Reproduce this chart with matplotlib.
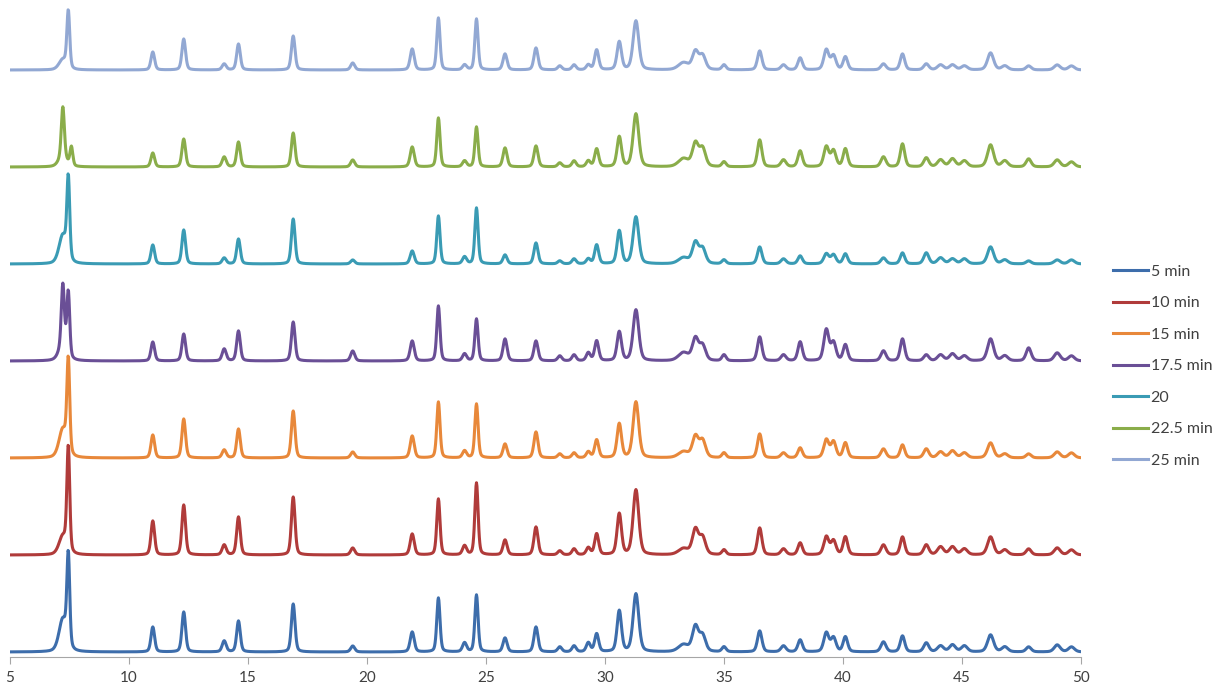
import numpy as np
import matplotlib
matplotlib.use("Agg")
import matplotlib.pyplot as plt

plt.rcParams["font.family"] = ["Lato", "DejaVu Sans"]

# peak positions (2-theta, deg) shared by all scans, and their widths (FWHM, deg)
peak_pos = [7.22, 7.22, 7.45, 7.58, 11.0, 12.3, 14.0, 14.6, 16.9, 19.4, 21.9, 23.0, 24.1,
            24.6, 25.8, 27.1, 28.1, 28.7, 29.3, 29.65, 30.6, 31.3, 33.3, 33.8, 34.1,
            35.0, 36.5, 37.5, 38.2, 39.3, 39.6, 40.1, 41.7, 42.5, 43.5, 44.1, 44.6,
            45.1, 46.2, 46.8, 47.8, 49.0, 49.6]
peak_fwhm = [0.38, 0.15, 0.14, 0.14, 0.18, 0.18, 0.2, 0.18, 0.18, 0.2, 0.2, 0.16, 0.2,
             0.16, 0.2, 0.2, 0.2, 0.2, 0.2, 0.2, 0.22, 0.28, 0.5, 0.3, 0.3,
             0.2, 0.22, 0.25, 0.22, 0.25, 0.25, 0.22, 0.25, 0.22, 0.25, 0.3, 0.3,
             0.3, 0.3, 0.3, 0.25, 0.3, 0.3]

labels = ["5 min", "10 min", "15 min", "17.5 min", "20", "22.5 min", "25 min"]
colors = ["#3d6dab", "#b03b3a", "#e8883a", "#6a4f96", "#3a9bb4", "#8aad4a", "#92a8d3"]

h_5 = [32, 0, 90, 0, 25, 40, 11, 31, 48, 6, 20, 54, 9, 57, 14, 25, 5, 6, 9, 18, 41, 58,
       7, 25, 16, 5, 21, 6, 12, 19, 14, 15, 10, 16, 9, 6, 7, 6, 17, 5, 5, 7, 5]
h_10 = [18, 0, 104, 0, 34, 50, 10, 38, 58, 7, 21, 56, 9, 72, 15, 28, 4, 6, 7, 21, 41, 65,
        6, 25, 17, 5, 27, 6, 12, 18, 14, 18, 10, 18, 10, 8, 8, 6, 18, 5, 6, 7, 5]
h_15 = [28, 0, 92, 0, 23, 39, 8, 29, 47, 6, 22, 56, 7, 54, 14, 26, 4, 5, 6, 18, 34, 56,
        6, 21, 17, 5, 24, 5, 10, 18, 16, 15, 9, 13, 9, 6, 7, 5, 15, 4, 4, 6, 5]
h_17_5 = [14, 62, 64, 0, 19, 27, 12, 30, 39, 10, 20, 55, 7, 42, 22, 20, 5, 6, 8, 20, 29, 51,
          8, 22, 15, 6, 24, 6, 19, 31, 18, 16, 10, 22, 6, 6, 7, 5, 22, 5, 13, 8, 5]
h_20 = [28, 0, 80, 0, 19, 34, 6, 25, 45, 4, 13, 48, 7, 56, 9, 21, 3, 5, 5, 19, 33, 47,
        6, 21, 15, 4, 17, 5, 8, 10, 9, 10, 6, 11, 11, 6, 5, 5, 17, 4, 3, 4, 4]
h_22_5 = [10, 50, 0, 19, 14, 28, 10, 25, 34, 7, 20, 49, 6, 40, 19, 21, 4, 6, 6, 18, 30, 53,
          8, 23, 18, 5, 27, 7, 16, 20, 16, 18, 10, 23, 9, 7, 8, 6, 22, 6, 8, 7, 5]
h_25 = [10, 0, 57, 0, 18, 31, 6, 26, 34, 7, 21, 52, 5, 51, 16, 22, 4, 5, 5, 20, 28, 49,
        7, 18, 14, 5, 19, 5, 12, 20, 14, 13, 6, 16, 6, 5, 5, 4, 17, 4, 4, 5, 4]

heights = [h_5, h_10, h_15, h_17_5, h_20, h_22_5, h_25]
offset_step = 97


def pattern(x, heights_):
    # pseudo-Voigt peaks on a flat baseline
    y = np.zeros_like(x)
    for pos, w, h in zip(peak_pos, peak_fwhm, heights_):
        hw = w / 2.0
        lor = 1.0 / (1.0 + ((x - pos) / hw) ** 2)
        gau = np.exp(-np.log(2) * ((x - pos) / hw) ** 2)
        y += h * (0.35 * lor + 0.65 * gau)
    return y


x = np.arange(5.0, 50.0001, 0.02)

fig = plt.figure(figsize=(12.16, 6.87), dpi=100)
ax = fig.add_axes([10 / 1216, 30 / 687, 1071 / 1216, 657 / 687])

for i, (lbl, col, hs) in enumerate(zip(labels, colors, heights)):
    ax.plot(x, pattern(x, hs) + i * offset_step, color=col, lw=2.2, label=lbl,
            solid_joinstyle="round")

ax.set_xlim(5, 50)
ax.set_ylim(-5, 652)
ax.set_xticks(range(5, 51, 5))
ax.set_yticks([])
for side in ["top", "right", "left"]:
    ax.spines[side].set_visible(False)
ax.spines["bottom"].set_color("#a6a6a6")
ax.tick_params(axis="x", direction="out", length=5, color="#a6a6a6",
               labelsize=11, labelcolor="#404040", pad=5)

leg = fig.legend(loc="center left", bbox_to_anchor=(1113 / 1216, 0.467),
                 frameon=False, fontsize=11.5, handlelength=2.2, handletextpad=0.15,
                 labelspacing=1.08, borderpad=0, borderaxespad=0)
for t in leg.get_texts():
    t.set_color("#404040")

fig.savefig("out.png", dpi=100)
